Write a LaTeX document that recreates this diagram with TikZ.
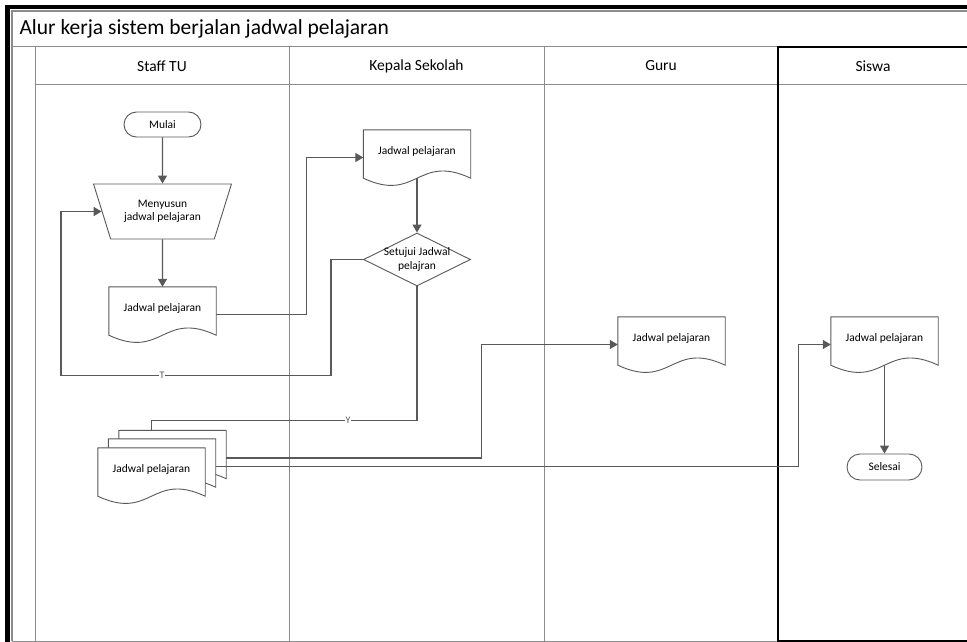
\documentclass[tikz,border=0pt]{standalone}
\usepackage{fontspec}
\setmainfont{Carlito}
\usetikzlibrary{shapes.geometric,arrows.meta,backgrounds}
\definecolor{lanegray}{HTML}{8C8C8C}
\definecolor{flowgray}{HTML}{595959}

\tikzset{
  box/.style={draw=flowgray,line width=0.9pt,fill=white,font=\fontsize{11.5}{13.5}\selectfont},
  terminal/.style={box,rounded corners=12.5pt,minimum width=77pt,minimum height=25pt,inner sep=0pt},
  manualop/.style={box,trapezium,shape border rotate=180,trapezium stretches=true,
    trapezium left angle=65,trapezium right angle=65,minimum width=138pt,minimum height=55pt,align=center},
  decision/.style={box,diamond,aspect=2,minimum width=107pt,minimum height=53pt,inner sep=0pt,align=center},
  docbox/.style={font=\fontsize{11.5}{13.5}\selectfont,minimum width=107pt,minimum height=55pt,
    inner sep=0pt,text height=8pt,text depth=14pt},
  flow/.style={flowgray,line width=1.2pt},
  flowarrow/.style={flow,-{Triangle[length=8pt,width=9pt]}},
  flowlabel/.style={fill=white,inner sep=1pt,font=\fontsize{10}{12}\selectfont},
  laneline/.style={lanegray,line width=1pt}
}

% document outline under a docbox node
\newcommand{\docshape}[1]{%
  \begin{scope}[on background layer]
    \draw[draw=flowgray,line width=0.9pt,fill=white] (#1.north west) -- (#1.north east)
      -- ([yshift=7pt]#1.south east)
      .. controls ([yshift=32pt]#1.south) and ([yshift=-18pt]#1.south) ..
      ([yshift=7pt]#1.south west) -- cycle;
  \end{scope}}

\begin{document}
\begin{tikzpicture}[x=1pt,y=-1pt]
  \useasboundingbox (0,0) rectangle (967,642);
  % pool and lanes
  \begin{scope}[on background layer]
    \fill[white] (-10,-10) rectangle (977,652);
    \fill (5,5) rectangle (967,9.5);
    \fill (5,5) rectangle (10,642);
    \draw[laneline,line width=1.6pt] (12,641) -- (12,11) -- (967,11);
    \draw[laneline] (12,47) -- (778,47);
    \draw[laneline] (35,47) -- (35,641);
    \draw[laneline] (12,641) -- (778,641);
    \draw[laneline] (35,85) -- (967,85);
    \draw[laneline] (289,47) -- (289,641);
    \draw[laneline] (544,47) -- (544,641);
    \draw[line width=1.2pt] (967,47) -- (778,47) -- (778,641) -- (967,641);
  \end{scope}
  \node[anchor=west,font=\fontsize{21.5}{25}\selectfont] (judul) at (16,29)
    {Alur kerja sistem berjalan jadwal pelajaran};
  \foreach \x/\t [count=\i] in {162/Staff TU,416.5/Kepala Sekolah,661/Guru,873/Siswa}
    \node[font=\fontsize{15.5}{18}\selectfont] (lane\i) at (\x,66) {\t};

  % Staff TU
  \node[terminal] (mulai) at (162.5,124.5) {Mulai};
  \node[manualop] (menyusun) at (162.5,211.5) {Menyusun\\jadwal pelajaran};
  \node[docbox] (jadwal1) at (162.5,314.5) {Jadwal pelajaran}; \docshape{jadwal1}
  % multi document, back to front
  \node[docbox] (rangkap3) at (172.5,458) {}; \docshape{rangkap3}
  \node[docbox] (rangkap2) at (162,466.5) {}; \docshape{rangkap2}
  \node[docbox] (rangkap1) at (151.5,475.5) {Jadwal pelajaran}; \docshape{rangkap1}

  % Kepala Sekolah
  \node[docbox] (jadwal2) at (417,157.5) {Jadwal pelajaran}; \docshape{jadwal2}
  \node[decision] (setuju) at (417,259.5) {\makebox[0pt]{Setujui Jadwal}\\pelajran};

  % Guru and Siswa
  \node[docbox] (jguru) at (671.5,344.5) {Jadwal pelajaran}; \docshape{jguru}
  \node[docbox] (jsiswa) at (884.5,344.5) {Jadwal pelajaran}; \docshape{jsiswa}
  \node[terminal,minimum width=75pt,minimum height=26pt,rounded corners=13pt] (selesai) at (884.5,467) {Selesai};

  % connectors
  \draw[flowarrow] (mulai.south) -- (menyusun.north);
  \draw[flowarrow] (menyusun.south) -- (jadwal1.north);
  \draw[flowarrow] (jadwal1.east) -- ++(90,0) |- (jadwal2.west);
  \draw[flowarrow] ([yshift=7pt]jadwal2.south) -- (setuju.north);
  \draw[flowarrow] (setuju.west) -- ++(-32,0) |- node[flowlabel,pos=0.813]{T} ++(-270,116) |- (menyusun.west);
  \draw[flow] (setuju.south) -- ++(0,134) -| node[flowlabel,pos=0.13]{Y} (rangkap1.north |- rangkap3.north);
  \draw[flowarrow] (rangkap3.east) -- ++(255,0) |- (jguru.west);
  \draw[flowarrow] (rangkap2.east) -- ++(583,0) |- (jsiswa.west);
  \draw[flowarrow] ([yshift=7pt]jsiswa.south) -- (selesai.north);
\end{tikzpicture}
\end{document}
